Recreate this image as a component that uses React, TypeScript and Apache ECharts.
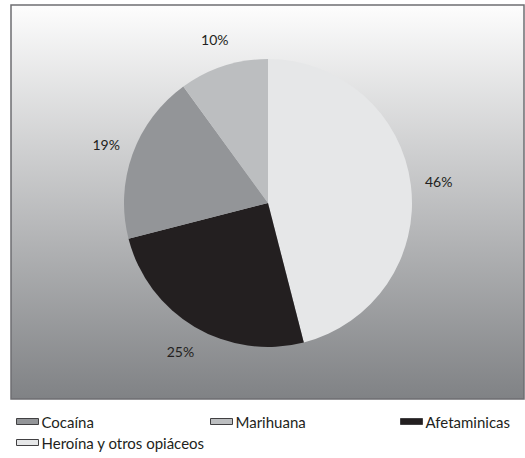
import React, { useEffect, useRef } from "react";
import * as echarts from "echarts";

const categories = ["Heroína y otros opiáceos", "Afetaminicas", "Cocaína", "Marihuana"];
const values = [46, 25, 19, 10];
const colors = ["#e6e7e8", "#231f20", "#939598", "#bcbec0"];
const legendOrder = ["Cocaína", "Marihuana", "Afetaminicas", "Heroína y otros opiáceos"];

export default function App() {
  const ref = useRef<HTMLDivElement>(null);
  useEffect(() => {
    document.body.style.margin = "0";
    const chart = echarts.init(ref.current!, undefined, { renderer: "svg" });
    const data = categories.map((name, i) => ({
      name,
      value: values[i],
      itemStyle: { color: colors[i] },
    }));
    const legendPos = [
      { left: 11, top: 409 },
      { left: 205, top: 409 },
      { left: 395, top: 409 },
      { left: 11, top: 430 },
    ];
    const legends = legendOrder.map((name, i) => ({
      show: true,
      left: legendPos[i].left,
      top: legendPos[i].top,
      orient: "horizontal",
      icon: "rect",
      itemWidth: 22,
      itemHeight: 6,
      itemGap: 6,
      selectedMode: false,
      textStyle: { fontFamily: "Lato", fontSize: 15, color: "#231f20", padding: [0, 0, 0, -2] },
      data: [
        {
          name,
          icon: "rect",
          itemStyle: {
            color: colors[categories.indexOf(name)],
            borderColor: "#414042",
            borderWidth: 1,
          },
        },
      ],
    }));
    chart.setOption({
      animation: false,
      backgroundColor: "#ffffff",
      graphic: [
        {
          type: "rect",
          z: -10,
          silent: true,
          shape: { x: 11, y: 5, width: 513, height: 394 },
          style: {
            fill: new echarts.graphic.LinearGradient(0, 0, 0, 1, [
              { offset: 0, color: "#fdfdfd" },
              { offset: 1, color: "#808285" },
            ]),
            stroke: "#6d6e71",
            lineWidth: 1.5,
          },
        },
      ],
      legend: legends,
      series: [
        {
          type: "pie",
          center: [268, 203],
          radius: [0, 144],
          startAngle: 90,
          clockwise: true,
          label: { show: false },
          labelLine: { show: false },
          emphasis: { disabled: true },
          data,
        },
        {
          type: "pie",
          center: [268, 203],
          radius: [144, 194],
          startAngle: 90,
          clockwise: true,
          silent: true,
          legendHoverLink: false,
          itemStyle: { color: "rgba(0,0,0,0)" },
          label: {
            show: true,
            position: "inside",
            formatter: "{c}%",
            fontFamily: "Lato",
            fontSize: 14,
            color: "#231f20",
          },
          labelLine: { show: false },
          emphasis: { disabled: true },
          data: categories.map((name, i) => ({ name: name + " ", value: values[i] })),
        },
      ],
    });
    return () => chart.dispose();
  }, []);
  return <div ref={ref} style={{ position: "absolute", left: 0, top: 0, width: 525, height: 458 }} />;
}
